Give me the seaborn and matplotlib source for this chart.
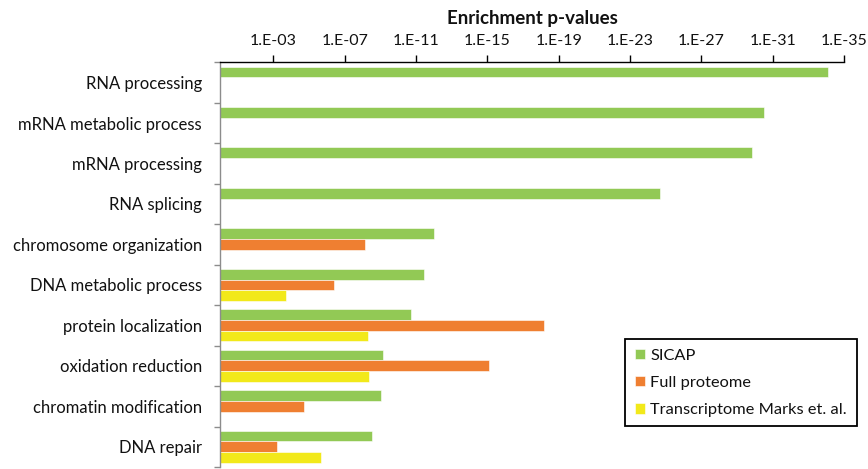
import numpy as np
import pandas as pd
import matplotlib
matplotlib.use("Agg")
import matplotlib.pyplot as plt
from matplotlib.ticker import FixedLocator, FuncFormatter
import seaborn as sns

# GO biological-process terms, top to bottom
categories = [
    "RNA processing",
    "mRNA metabolic process",
    "mRNA processing",
    "RNA splicing",
    "chromosome organization",
    "DNA metabolic process",
    "protein localization",
    "oxidation reduction",
    "chromatin modification",
    "DNA repair",
]
series = ["SICAP", "Full proteome", "Transcriptome Marks et. al."]

# Enrichment expressed as -log10(p); NaN where the term is not enriched
sicap = [34.1, 30.5, 29.85, 24.7, 12.0, 11.45, 10.7, 9.15, 9.05, 8.5]
full_proteome = [np.nan, np.nan, np.nan, np.nan, 8.15, 6.4, 18.15, 15.1, 4.7, 3.2]
transcriptome = [np.nan, np.nan, np.nan, np.nan, np.nan, 3.7, 8.3, 8.35, np.nan, 5.65]

tick_exponents = [3, 7, 11, 15, 19, 23, 27, 31, 35]
colors = ["#92c955", "#ef7f31", "#f2e91a"]

values = {"SICAP": sicap, "Full proteome": full_proteome,
          "Transcriptome Marks et. al.": transcriptome}
df = pd.DataFrame(
    [(cat, s, v) for s in series for cat, v in zip(categories, values[s])],
    columns=["term", "source", "neglog10p"],
).dropna()

sns.set_style("white")
plt.rcParams["font.family"] = ["Lato", "DejaVu Sans"]

W, H, DPI = 868, 469, 100
fig = plt.figure(figsize=(W / DPI, H / DPI), dpi=DPI)
ax = fig.add_axes([220 / W, 1 - 467 / H, (844 - 220) / W, (467 - 62.3) / H])

sns.barplot(
    data=df, y="term", x="neglog10p", hue="source",
    order=categories, hue_order=series, palette=colors,
    orient="h", width=0.79, errorbar=None, saturation=1,
    edgecolor="white", linewidth=0.4, ax=ax, legend=True,
)

ax.set_xlim(0, 35)
ax.set_ylim(len(categories) - 0.5, -0.5)

# value axis on top, Excel-style 1.E-xx labels
ax.xaxis.tick_top()
ax.xaxis.set_label_position("top")
ax.xaxis.set_major_locator(FixedLocator(tick_exponents))
ax.xaxis.set_major_formatter(FuncFormatter(lambda v, p: f"1.E-{int(round(v)):02d}"))
ax.tick_params(axis="x", which="major", direction="out", length=5, width=1.0,
               color="black", labelsize=11.5, pad=5.5, labelcolor="#111111")
ax.set_xlabel("Enrichment p-values", fontsize=13.5, fontweight="bold", labelpad=7,
              color="#111111")

# category labels centered, tick marks between categories
ax.set_ylabel("")
ax.tick_params(axis="y", which="major", length=0, pad=13, labelsize=12,
               labelcolor="#111111")
ax.yaxis.set_minor_locator(FixedLocator(np.arange(len(categories) + 1) - 0.5))
ax.tick_params(axis="y", which="minor", direction="out", length=4, width=1.0,
               color="#8c8c8c", left=True)

for side in ("right", "bottom"):
    ax.spines[side].set_visible(False)
ax.spines["top"].set_color("black")
ax.spines["top"].set_linewidth(1.0)
ax.spines["left"].set_color("#8c8c8c")
ax.spines["left"].set_linewidth(1.0)
ax.grid(False)

handles, labels = ax.get_legend_handles_labels()
ax.get_legend().remove()
leg = fig.legend(
    handles, labels, loc="upper left",
    bbox_to_anchor=(625 / W, 1 - 339 / H), bbox_transform=fig.transFigure,
    frameon=True, fancybox=False, framealpha=1, edgecolor="black",
    borderaxespad=0, borderpad=0.58, handlelength=0.62, handleheight=0.62,
    handletextpad=0.35, labelspacing=0.8, fontsize=11.8,
)
leg.get_frame().set_linewidth(1.3)
for t in leg.get_texts():
    t.set_color("#111111")

fig.savefig("out.png", dpi=DPI)
